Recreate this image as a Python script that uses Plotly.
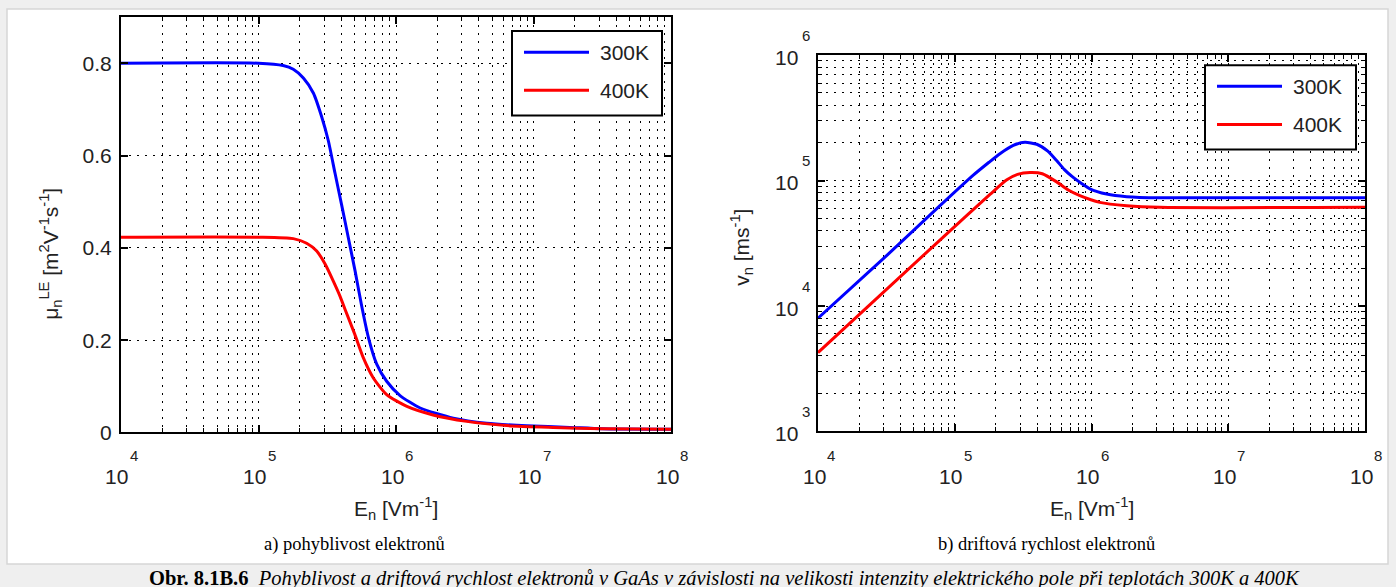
import plotly.graph_objects as go

# ---------------- data ----------------
series_names = ["300K", "400K"]
series_colors = ["#0000ff", "#ff0000"]

# a) electron mobility  mu_n^LE [m^2 V^-1 s^-1]  vs  E_n [V/m]
E_mu_300 = [1.0e4, 1.0e5, 1.51e5, 1.79e5, 2.12e5, 2.51e5, 2.88e5, 3.22e5, 3.60e5,
            4.03e5, 4.50e5, 5.04e5, 5.62e5, 6.31e5, 7.24e5, 8.55e5, 1.07e6, 1.50e6,
            2.61e6, 4.57e6, 8.91e6, 1.84e7, 3.16e7, 1.0e8]
mu_300 = [0.800, 0.800, 0.795, 0.787, 0.768, 0.735, 0.684, 0.632, 0.562,
          0.492, 0.422, 0.350, 0.275, 0.205, 0.148, 0.111, 0.080, 0.053,
          0.031, 0.020, 0.0145, 0.011, 0.008, 0.007]

E_mu_400 = [1.0e4, 1.0e5, 1.79e5, 2.24e5, 2.65e5, 3.05e5, 3.50e5, 3.92e5, 4.27e5,
            5.01e5, 5.78e5, 6.84e5, 8.55e5, 1.20e6, 1.86e6, 3.27e6, 6.38e6, 1.39e7,
            3.16e7, 1.0e8]
mu_400 = [0.423, 0.423, 0.420, 0.410, 0.393, 0.365, 0.328, 0.295, 0.266,
          0.213, 0.162, 0.118, 0.082, 0.0565, 0.038, 0.024, 0.015, 0.011,
          0.008, 0.007]

# b) electron drift velocity v_n [m/s] vs E_n [V/m]
E_v_300 = [1.0e4, 3.16e4, 7.80e4, 1.36e5, 1.78e5, 2.14e5, 2.68e5, 3.26e5, 3.98e5,
           4.79e5, 5.56e5, 6.31e5, 7.35e5, 8.51e5, 9.73e5, 1.29e6, 1.81e6, 3.16e6, 1.0e8]
v_300 = [8.0e3, 2.51e4, 6.31e4, 1.10e5, 1.40e5, 1.64e5, 1.91e5, 2.02e5, 1.95e5,
         1.72e5, 1.445e5, 1.23e5, 1.06e5, 9.44e4, 8.61e4, 7.82e4, 7.45e4, 7.29e4, 7.29e4]

E_v_400 = [1.0e4, 9.23e4, 1.81e5, 2.39e5, 2.88e5, 3.55e5, 4.37e5, 5.56e5, 6.76e5,
           8.22e5, 1.15e6, 1.81e6, 3.16e6, 1.0e8]
v_400 = [4.25e3, 3.98e4, 7.76e4, 1.01e5, 1.12e5, 1.16e5, 1.135e5, 9.77e4, 8.41e4,
         7.59e4, 6.71e4, 6.31e4, 6.12e4, 6.12e4]

# tick labels
x_exponents = [4, 5, 6, 7, 8]
y_exponents_v = [3, 4, 5, 6]
y_ticks_mu = [0, 0.2, 0.4, 0.6, 0.8]

# texts
xtitle = "E<sub>n</sub> [Vm<sup>-1</sup>]"
ytitle_mu = "\u03bc<sub>n</sub><sup>LE</sup> [m<sup>2</sup>V<sup>-1</sup>s<sup>-1</sup>]"
ytitle_v = "v<sub>n</sub> [ms<sup>-1</sup>]"
cap_a = "a) pohyblivost elektronů"
cap_b = "b) driftová rychlost elektronů"
cap_main_bold = "Obr. 8.1B.6"
cap_main_it = ("Pohyblivost a driftová rychlost elektronů v GaAs v závislosti na velikosti "
               "intenzity elektrického pole při teplotách 300K a 400K")

# ---------------- layout helpers ----------------
W, H = 1396, 587          # target picture
H_FIG = 600               # figure height (the photographed area is slightly taller)


def px(x):
    return x / W


def py(y):
    return 1 - y / H


L_AX = (121, 671, 17, 431)    # left, right, top, bottom (pixels in target picture)
R_AX = (818, 1365, 55, 430)

SANS = "Liberation Sans, Arial, sans-serif"
SERIF = "Liberation Serif, Times New Roman, serif"
TXT = "#222222"
DOT = "2px,6px"
PAGE_BG = "#efefef"

fig = go.Figure()

for E, y, name, col in [(E_mu_300, mu_300, series_names[0], series_colors[0]),
                        (E_mu_400, mu_400, series_names[1], series_colors[1])]:
    fig.add_trace(go.Scatter(x=E, y=y, name=name, mode="lines",
                             line=dict(color=col, width=3, shape="spline", smoothing=0.6),
                             xaxis="x", yaxis="y", showlegend=False))

for E, y, name, col in [(E_v_300, v_300, series_names[0], series_colors[0]),
                        (E_v_400, v_400, series_names[1], series_colors[1])]:
    fig.add_trace(go.Scatter(x=E, y=y, name=name, mode="lines",
                             line=dict(color=col, width=3, shape="spline", smoothing=0.6),
                             xaxis="x2", yaxis="y2", showlegend=False))

common = dict(showline=True, linecolor="black", linewidth=2, mirror="allticks",
              ticks="inside", ticklen=7, tickwidth=1.5, tickcolor="black",
              showgrid=True, gridcolor="black", gridwidth=1, griddash=DOT,
              zeroline=False)
minor_log = dict(dtick="D1", ticks="inside", ticklen=4, tickwidth=1, tickcolor="black",
                 showgrid=True, gridcolor="black", gridwidth=1, griddash=DOT)

fig.update_layout(
    width=W, height=H_FIG,
    margin=dict(l=0, r=0, t=0, b=0),
    paper_bgcolor=PAGE_BG,
    plot_bgcolor="white",
    showlegend=False,
    xaxis=dict(type="log", range=[4, 8], domain=[px(L_AX[0]), px(L_AX[1])], anchor="y",
               dtick=1, showticklabels=False, minor=minor_log, **common),
    yaxis=dict(range=[0, 0.9], domain=[py(L_AX[3]), py(L_AX[2])], anchor="x",
               tickmode="array", tickvals=y_ticks_mu, ticklabelstandoff=3,
               tickfont=dict(family=SANS, size=21, color=TXT), **common),
    xaxis2=dict(type="log", range=[4, 8], domain=[px(R_AX[0]), px(R_AX[1])], anchor="y2",
                dtick=1, showticklabels=False, minor=minor_log, **common),
    yaxis2=dict(type="log", range=[3, 6], domain=[py(R_AX[3]), py(R_AX[2])], anchor="x2",
                dtick=1, showticklabels=False, minor=minor_log, **common),
)

shapes = []
annotations = []


def note(text, x, y, xref="paper", yref="paper", xanchor="center", yanchor="middle",
         size=21, family=SANS, color=TXT, **kw):
    d = dict(text=text, x=x, y=y, xref=xref, yref=yref, xanchor=xanchor, yanchor=yanchor,
             showarrow=False, font=dict(family=family, size=size, color=color))
    d.update(kw)
    annotations.append(d)


# white page panel
shapes.append(dict(type="rect", xref="paper", yref="paper", x0=px(7), x1=px(1388),
                   y0=py(562), y1=py(9), fillcolor="white",
                   line=dict(color="#d6d6d6", width=1.5), layer="below"))

# log tick labels (MATLAB style 10 with raised exponent)
for xr in ["x", "x2"]:
    for k in x_exponents:
        note("10", k, py(475), xref=xr, xshift=-4)
        note(str(k), k, py(454), xref=xr, xshift=13, size=15)
for k in y_exponents_v:
    note("10", px(800), k, yref="y2", xanchor="right", yshift=-2)
    note(str(k), px(806), k, yref="y2", yshift=20, size=15)

# axis titles
for cx in [(L_AX[0] + L_AX[1]) / 2, (R_AX[0] + R_AX[1]) / 2]:
    note(xtitle, px(cx), py(507))
note(ytitle_mu, px(51), py(253), textangle=-90)
note(ytitle_v, px(742), py(247), textangle=-90)

# sub captions and main caption
note(cap_a, px(354), py(543), family=SERIF, size=18.5, color="black")
note(cap_b, px(1046), py(543), family=SERIF, size=18.5, color="black")
note("<b>" + cap_main_bold + "</b>&nbsp;&nbsp;<i>" + cap_main_it + "</i>",
     px(724), py(577), family=SERIF, size=20.5, color="black")

# legends (MATLAB-style boxed legends)
for (bx0, by0, bx1, by1) in [(512, 31, 662, 115), (1205, 65, 1356, 149)]:
    shapes.append(dict(type="rect", xref="paper", yref="paper", x0=px(bx0), x1=px(bx1),
                       y0=py(by1), y1=py(by0), fillcolor="white",
                       line=dict(color="black", width=2), layer="above"))
    rows = [by0 + 21, by0 + 59]
    for i, name in enumerate(series_names):
        shapes.append(dict(type="line", xref="paper", yref="paper",
                           x0=px(bx0 + 12), x1=px(bx0 + 77), y0=py(rows[i]), y1=py(rows[i]),
                           line=dict(color=series_colors[i], width=3), layer="above"))
        note(name, px(bx0 + 86), py(rows[i]), xanchor="left")

fig.update_layout(shapes=shapes, annotations=annotations)

page_js = (
    "var de=document.documentElement, b=document.body;"
    "de.style.margin='0';de.style.padding='0';de.style.overflow='hidden';"
    "de.style.background='" + PAGE_BG + "';"
    "b.style.margin='0';b.style.padding='0';b.style.overflow='hidden';"
    "b.style.background='" + PAGE_BG + "';"
)
fig.write_html("out.html", config={"displayModeBar": False}, post_script=page_js)
